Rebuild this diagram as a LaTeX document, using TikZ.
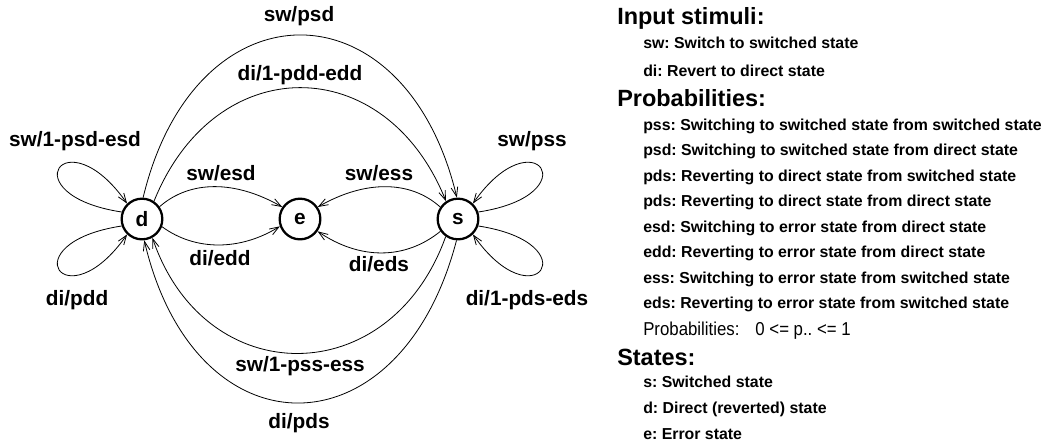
\documentclass[tikz,border=0pt]{standalone}
\usepackage{fontspec}
\setmainfont{Liberation Sans}
\newfontfamily\narrowfont{Liberation Sans}[FakeStretch=0.9]
\usetikzlibrary{arrows.meta}

\begin{document}
\frenchspacing
\begin{tikzpicture}[x=0.75pt, y=-0.75pt,
    state/.style={circle, draw, line width=1.7pt, minimum size=30.5pt, inner sep=0pt,
      font=\fontsize{15.6}{18}\selectfont\bfseries},
    edge/.style={draw, line width=0.6pt, -{Straight Barb[length=7pt,width=5pt]}},
    lbl/.style={anchor=base, inner sep=0pt, font=\fontsize{15.6}{18}\selectfont\bfseries},
    head/.style={anchor=base west, inner sep=0pt, font=\fontsize{17.6}{20}\selectfont\bfseries},
    item/.style={anchor=base west, inner sep=0pt, font=\fontsize{11.9}{14}\selectfont\bfseries}]
    \useasboundingbox (0,0) rectangle (1045,443);

    % States
    \node[state] (d) at (142,219) {d};
    \node[state] (e) at (300,219) {e};
    \node[state] (s) at (458,219) {s};

    % Self loops
    \draw[edge] (d.161) .. controls (10,195) and (65,115) .. (d.134);
    \draw[edge] (d.-161) .. controls (10,243) and (65,323) .. (d.-134);
    \draw[edge] (s.19) .. controls (590,195) and (535,115) .. (s.46);
    \draw[edge] (s.-19) .. controls (590,243) and (535,323) .. (s.-46);

    % d -> s
    \draw[edge] (d.87) .. controls (195,-19) and (405,-19) .. (s.93);
    \draw[edge] (d.56) .. controls (215,50) and (385,50) .. (s.124);

    % into the error state
    \draw[edge] (d.35) .. controls (190,180) and (235,180) .. (e.146);
    \draw[edge] (d.-21) .. controls (195,251) and (240,251) .. (e.-160);
    \draw[edge] (s.146) .. controls (410,180) and (365,180) .. (e.34);
    \draw[edge] (s.-145) .. controls (405,260) and (360,260) .. (e.-35);

    % s -> d
    \draw[edge] (s.-125) .. controls (390,392) and (205,392) .. (d.-61);
    \draw[edge] (s.-94) .. controls (400,457) and (195,457) .. (d.-84);

    % Transition labels
    \node[lbl] (lpsd) at (299,21.5) {sw/psd};
    \node[lbl] (lpdd) at (300,80) {di/1-pdd-edd};
    \node[lbl] (lsdl) at (75,146.5) {sw/1-psd-esd};
    \node[lbl] (lssl) at (532,146.5) {sw/pss};
    \node[lbl] (lesd) at (221,180) {sw/esd};
    \node[lbl] (less) at (379,180) {sw/ess};
    \node[lbl] (ledd) at (220,265) {di/edd};
    \node[lbl] (leds) at (379,271.5) {di/eds};
    \node[lbl] (lddl) at (77,305) {di/pdd};
    \node[lbl] (ldsl) at (527,305) {di/1-pds-eds};
    \node[lbl] (lpss) at (300,371.5) {sw/1-pss-ess};
    \node[lbl] (lpds) at (299,428) {di/pds};

    % Legend
    \node[head] (hin) at (617,24) {Input stimuli:};
    \node[item] (isw) at (643,48) {sw: Switch to switched state};
    \node[item] (idi) at (643,76) {di: Revert to direct state};
    \node[head] (hprob) at (617,106) {Probabilities:};
    \foreach \txt [count=\i] in {pss: Switching to switched state from switched state,
        psd: Switching to switched state from direct state,
        pds: Reverting to direct state from switched state,
        pds: Reverting to direct state from direct state,
        esd: Switching to error state from direct state,
        edd: Reverting to error state from direct state,
        ess: Switching to error state from switched state,
        eds: Reverting to error state from switched state}
      \node[item] (p\i) at (643,{130+25.5*(\i-1)}) {\txt};
    \node[anchor=base west, inner sep=0pt, font=\fontsize{14}{16}\selectfont\narrowfont] (prange) at (643,335)
      {Probabilities:\hspace{12pt}0 <= p.. <= 1};
    \node[head] (hst) at (617,365) {States:};
    \node[item] (st) at (643,387) {s: Switched state};
    \node[item] (dt) at (643,413) {d: Direct (reverted) state};
    \node[item] (et) at (643,439) {e: Error state};
\end{tikzpicture}
\end{document}
